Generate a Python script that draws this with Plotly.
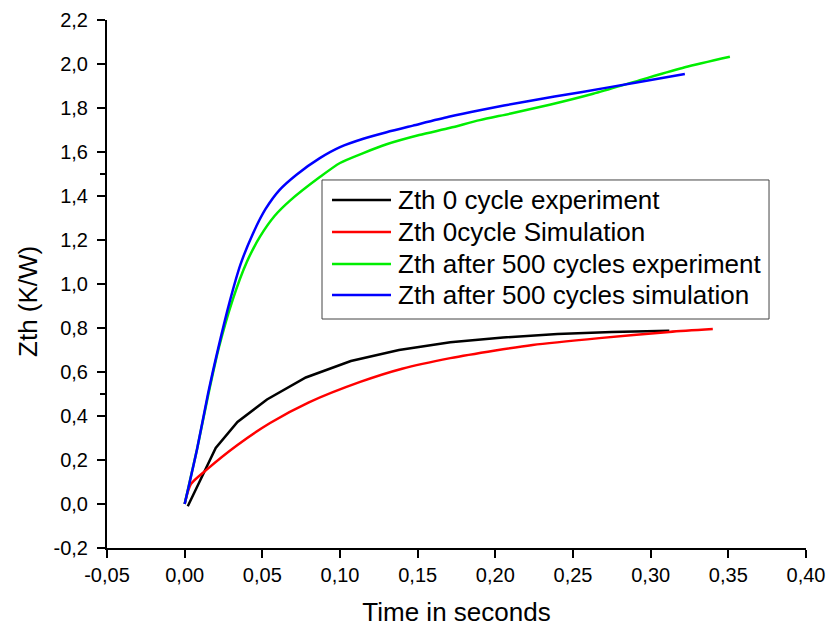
import plotly.graph_objects as go

# Thermal impedance Zth (K/W) versus time (s)
t_exp0 = [0.002, 0.020, 0.034, 0.053, 0.078, 0.107, 0.138, 0.171, 0.205, 0.240, 0.275, 0.312]
z_exp0 = [-0.01, 0.255, 0.373, 0.475, 0.575, 0.650, 0.700, 0.735, 0.757, 0.773, 0.782, 0.788]

t_sim0 = [0.000, 0.004, 0.014, 0.034, 0.055, 0.080, 0.113, 0.140, 0.171, 0.200, 0.224, 0.267, 0.312, 0.340]
z_sim0 = [0.000, 0.090, 0.155, 0.268, 0.368, 0.462, 0.555, 0.615, 0.663, 0.698, 0.723, 0.754, 0.782, 0.795]

t_exp500 = [0.000, 0.008, 0.015, 0.022, 0.031, 0.040, 0.0485, 0.058, 0.068, 0.087, 0.100, 0.115,
            0.130, 0.151, 0.171, 0.190, 0.210, 0.235, 0.263, 0.290, 0.322, 0.351]
z_exp500 = [0.000, 0.250, 0.490, 0.710, 0.930, 1.100, 1.215, 1.310, 1.380, 1.486, 1.550, 1.595,
            1.635, 1.677, 1.710, 1.745, 1.775, 1.815, 1.865, 1.920, 1.985, 2.033]

t_sim500 = [0.000, 0.008, 0.015, 0.022, 0.029, 0.036, 0.044, 0.052, 0.061, 0.072, 0.087, 0.100,
            0.115, 0.130, 0.147, 0.170, 0.190, 0.220, 0.256, 0.290, 0.322]
z_sim500 = [0.000, 0.250, 0.500, 0.720, 0.920, 1.090, 1.230, 1.340, 1.427, 1.497, 1.572, 1.622,
            1.660, 1.690, 1.720, 1.760, 1.790, 1.830, 1.873, 1.915, 1.955]

# Axis ticks (labels use a comma decimal mark and a plain hyphen for negatives)
x_ticks = [-0.05, 0.00, 0.05, 0.10, 0.15, 0.20, 0.25, 0.30, 0.35, 0.40]
x_ticktext = ["-0,05", "0,00", "0,05", "0,10", "0,15", "0,20", "0,25", "0,30", "0,35", "0,40"]
y_ticks = [-0.2, 0.0, 0.2, 0.4, 0.6, 0.8, 1.0, 1.2, 1.4, 1.6, 1.8, 2.0, 2.2]
y_ticktext = ["-0,2", "0,0", "0,2", "0,4", "0,6", "0,8", "1,0", "1,2", "1,4", "1,6", "1,8", "2,0", "2,2"]

series = [
    ("Zth 0 cycle experiment", t_exp0, z_exp0, "#000000", "linear"),
    ("Zth 0cycle Simulation", t_sim0, z_sim0, "#ff0000", "spline"),
    ("Zth after 500 cycles experiment", t_exp500, z_exp500, "#00ee00", "spline"),
    ("Zth after 500 cycles simulation", t_sim500, z_sim500, "#0000ff", "spline"),
]

FONT = "Liberation Sans, Arial"

fig = go.Figure()
for name, x, y, color, shape in series:
    fig.add_trace(go.Scatter(x=x, y=y, mode="lines", name=name, showlegend=False,
                             line=dict(color=color, width=2.5, shape=shape, smoothing=0.7)))

axis_common = dict(
    showline=True, linecolor="black", linewidth=2,
    ticks="outside", ticklen=8, tickwidth=2, tickcolor="black",
    showgrid=False, zeroline=False, mirror=False, automargin=False,
    tickfont=dict(family=FONT, size=20, color="black"),
    minor=dict(ticks="outside", ticklen=5, tickwidth=2, tickcolor="black", nticks=2),
)

fig.update_xaxes(range=[-0.05, 0.40], tickmode="array", tickvals=x_ticks, ticktext=x_ticktext,
                 title=dict(text="Time in seconds", font=dict(family=FONT, size=26, color="black"),
                            standoff=18),
                 **axis_common)
fig.update_yaxes(range=[-0.2, 2.2], tickmode="array", tickvals=y_ticks, ticktext=y_ticktext,
                 ticklabelstandoff=5, **axis_common)

fig.add_annotation(text="Zth (K/W)", textangle=-90, xref="paper", yref="paper",
                   x=-0.113, y=0.466, xanchor="center", yanchor="middle", showarrow=False,
                   font=dict(family=FONT, size=26, color="black"))

# Boxed key drawn in paper coordinates, on top of the curves
box_x0, box_x1 = 0.3076, 0.9471
box_y0, box_y1 = 0.4337, 0.6970
fig.add_shape(type="rect", xref="paper", yref="paper", x0=box_x0, x1=box_x1, y0=box_y0, y1=box_y1,
              fillcolor="white", line=dict(color="#444444", width=1), layer="above")
row_y = [0.6591, 0.5985, 0.5379, 0.4792]
for (name, _, _, color, _), yy in zip(series, row_y):
    fig.add_shape(type="line", xref="paper", yref="paper", x0=0.3219, x1=0.4063, y0=yy, y1=yy,
                  line=dict(color=color, width=2.5), layer="above")
    fig.add_annotation(text=name, xref="paper", yref="paper", x=0.4134, y=yy,
                       xanchor="left", yanchor="middle", showarrow=False,
                       font=dict(family=FONT, size=26, color="black"))

fig.update_layout(
    width=830, height=631,
    margin=dict(l=107, r=24, t=20, b=83),
    paper_bgcolor="white", plot_bgcolor="white",
    showlegend=False,
)

fig.write_html("out.html")
